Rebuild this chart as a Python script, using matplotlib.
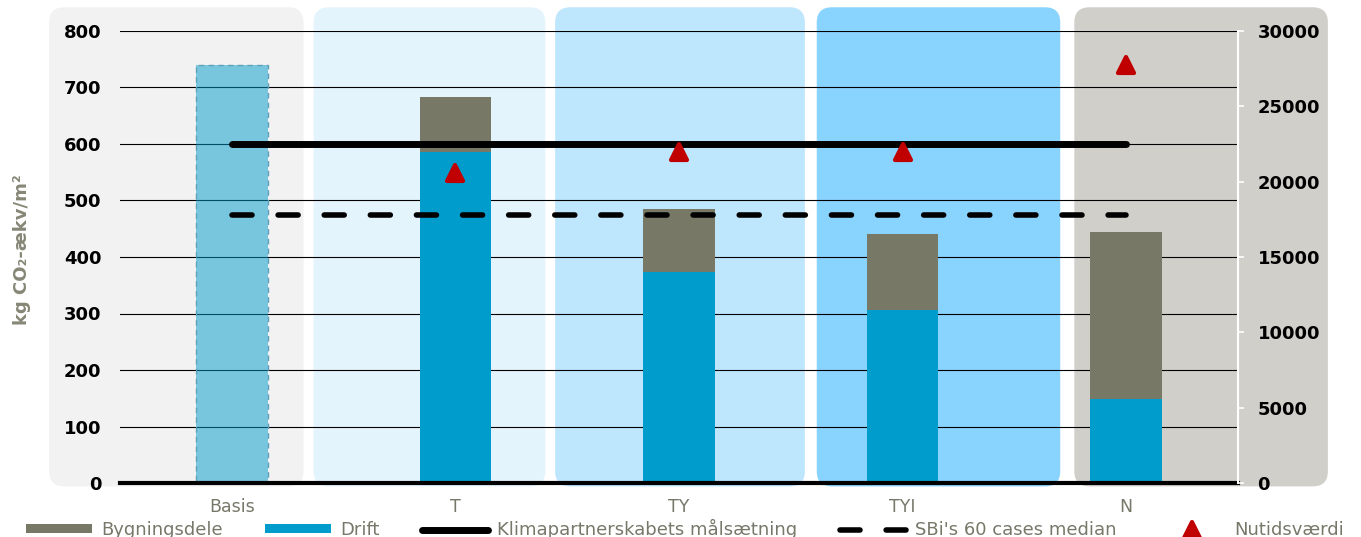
import matplotlib.pyplot as plt
import numpy as np
from matplotlib.patches import FancyBboxPatch, Patch
from matplotlib.lines import Line2D
from matplotlib.markers import MarkerStyle

plt.rcParams['font.family'] = ['DejaVu Sans']

categories = ['Basis', 'T', 'TY', 'TYI', 'N']
basis_total = [739]
drift = [586, 374, 307, 149]
bygningsdele = [98, 111, 134, 295]
nutidsvaerdi = [20600, 21950, 22000, 27750]
klima_target = 600
sbi_median = 475

panel_colors = ['#f2f2f2', '#e4f4fd', '#bee6fd', '#89d3ff', '#d0cfca']
# panel edges in category units, relative to each category centre
panel_left = [-0.817, -0.634, -0.554, -0.384, -0.232]
panel_right = [0.321, 0.402, 0.563, 0.705, 0.902]

c_bygn = '#787866'
c_drift = '#009ccc'
c_red = '#c00000'
c_text = '#78786a'

W, H = 1361, 537
fig = plt.figure(figsize=(W / 100, H / 100), dpi=100)
ax = fig.add_axes([120 / W, 1 - 483 / H, 1118 / W, 452 / H])
ax.patch.set_visible(False)
ax.set_xlim(-0.5, 4.5)
ax.set_ylim(0, 800)

x = np.arange(len(categories))

# background panels with rounded corners
asp = (800 / 452) / (5 / 1118)
for i, col in enumerate(panel_colors):
    x0 = x[i] + panel_left[i]
    x1 = x[i] + panel_right[i]
    p = FancyBboxPatch((x0, -6), x1 - x0, 848, boxstyle='round,pad=0,rounding_size=0.068',
                       mutation_aspect=asp, fc=col, ec='none', zorder=0.1, clip_on=False)
    ax.add_patch(p)

ax.set_axisbelow(True)
ax.yaxis.grid(True, color='black', lw=0.8)
ax.set_yticks(np.arange(0, 801, 100))

bw = 0.32
ax.bar(x[:1], basis_total, width=bw, color=c_drift, alpha=0.5, zorder=2)
ax.bar(x[:1], basis_total, width=bw, fc='none', ec='#5f9fb8', lw=1, ls=(0, (4, 3)), zorder=2)
ax.bar(x[1:], drift, width=bw, color=c_drift, zorder=2)
ax.bar(x[1:], bygningsdele, bottom=drift, width=bw, color=c_bygn, zorder=2)

ax.axhline(0, color='black', lw=3, zorder=3, clip_on=False)
ax.plot([x[0], x[-1]], [klima_target] * 2, color='black', lw=5, solid_capstyle='round', zorder=4)
ax.plot([x[0], x[-1]], [sbi_median] * 2, color='black', lw=4, dashes=(3.6, 4.7),
        dash_capstyle='round', zorder=4)

for s in ax.spines.values():
    s.set_visible(False)
ax.set_xticks(x)
ax.set_xticklabels(categories, color=c_text, fontsize=12.5)
ax.tick_params(axis='x', length=0, pad=11)
ax.tick_params(axis='y', length=0, pad=13.5, labelsize=13)
for t in ax.get_yticklabels():
    t.set_fontweight('bold')

ax2 = ax.twinx()
ax2.set_ylim(0, 30000)
ax2.set_yticks(np.arange(0, 30001, 5000))
ax2.plot(x[1:], nutidsvaerdi, ls='none', marker=MarkerStyle('^', joinstyle='round'),
         ms=12, mfc=c_red, mec=c_red, mew=3, zorder=5)
for k, s in ax2.spines.items():
    s.set_visible(k == 'right')
ax2.spines['right'].set_color('white')
ax2.spines['right'].set_linewidth(1.5)
ax2.tick_params(axis='y', colors='white', labelcolor='black', length=4.5, width=1.2,
                pad=9.5, labelsize=13)
for t in ax2.get_yticklabels():
    t.set_fontweight('bold')

fig.text(22 / W, 1 - 250 / H, 'kg CO\u2082-\u00e6kv/m\u00b2', rotation=90, ha='center', va='center',
         fontsize=13, fontweight='bold', color='#878777')

handles = [
    Patch(fc=c_bygn, ec='none'),
    Patch(fc=c_drift, ec='none'),
    Line2D([], [], color='black', lw=5, solid_capstyle='round'),
    Line2D([], [], color='black', lw=4, dashes=(3.6, 4.7), dash_capstyle='round'),
    Line2D([], [], ls='none', marker=MarkerStyle('^', joinstyle='round'), ms=12,
           mfc=c_red, mec=c_red, mew=3),
]
labels = ['Bygningsdele', 'Drift', 'Klimapartnerskabets målsætning',
          "SBi's 60 cases median", 'Nutidsværdi']
fig.legend(handles, labels, loc='upper left', bbox_to_anchor=(26 / W, 1 - 519 / H), ncol=5,
           frameon=False, fontsize=13, handlelength=3.66, handleheight=0.4, handletextpad=0.5,
           columnspacing=2.35, borderpad=0, borderaxespad=0, labelcolor=c_text)

fig.savefig('out.png', dpi=100)
